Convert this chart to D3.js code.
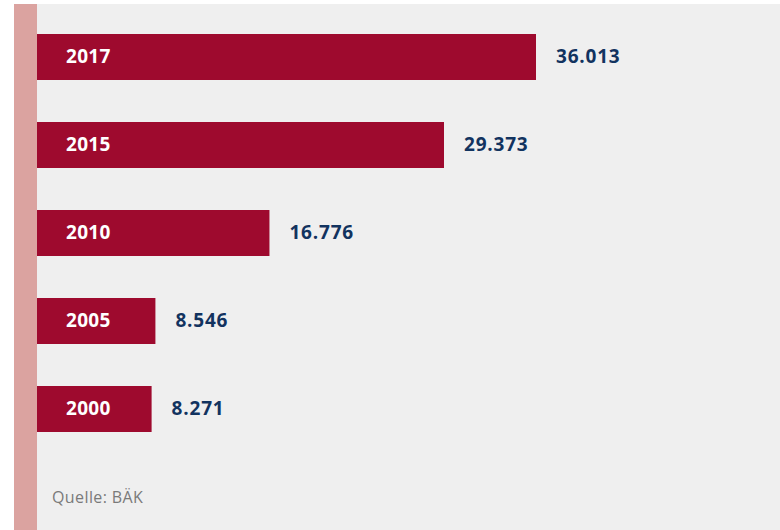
<!DOCTYPE html>
<html><head><meta charset="utf-8">
<script src="https://cdn.jsdelivr.net/npm/d3@7"></script>
<style>body{margin:0;background:#fff}svg{display:block}</style>
</head><body>
<svg id="c" width="780" height="530"></svg>
<script>
const years = ["2017", "2015", "2010", "2005", "2000"];
const values = [36013, 29373, 16776, 8546, 8271];
const valueLabels = ["36.013", "29.373", "16.776", "8.546", "8.271"];
const source = "Quelle: BÄK";

const svg = d3.select("#c");
svg.append("rect").attr("x",14).attr("y",4).attr("width",766).attr("height",526).attr("fill","#efefef");
svg.append("rect").attr("x",14).attr("y",4).attr("width",23).attr("height",526).attr("fill","#dba3a0");

const x = d3.scaleLinear().domain([0, 36013]).range([37, 536]);
const y = d3.scaleBand().domain(years).range([12, 454]).paddingInner(42/88).paddingOuter(0.25);

const g = svg.append("g");
g.selectAll("rect.bar").data(years).join("rect").attr("class","bar")
  .attr("x", x(0)).attr("y", d => y(d)).attr("height", y.bandwidth())
  .attr("width", (d,i) => x(values[i]) - x(0)).attr("fill", "#9e0a2e");

g.selectAll("text.yr").data(years).join("text").attr("class","yr")
  .attr("x", 66).attr("y", d => y(d) + y.bandwidth()/2).attr("dy","0.3em")
  .attr("fill","#fff").attr("font-family","Open Sans").attr("font-weight","bold").attr("font-size",19)
  .attr("letter-spacing",0.3)
  .text(d => d);

g.selectAll("text.val").data(years).join("text").attr("class","val")
  .attr("x", (d,i) => x(values[i]) + 20).attr("y", d => y(d) + y.bandwidth()/2).attr("dy","0.3em")
  .attr("fill","#12335f").attr("font-family","Open Sans").attr("font-weight","bold").attr("font-size",19)
  .attr("letter-spacing",0.8)
  .text((d,i) => valueLabels[i]);

svg.append("text").attr("x",52).attr("y",503).attr("fill","#7a7a7a")
  .attr("font-family","Open Sans").attr("font-size",16).attr("letter-spacing",0.4).text(source);
</script>
</body></html>
